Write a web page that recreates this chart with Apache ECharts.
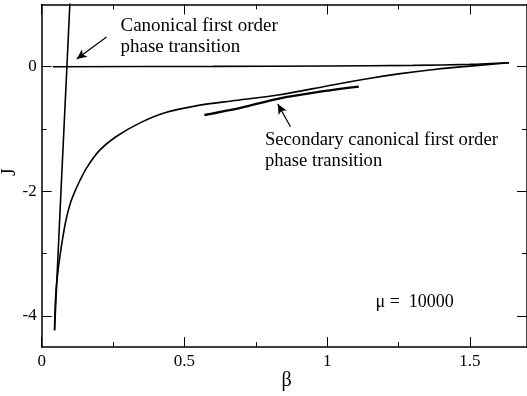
<!DOCTYPE html>
<html>
<head>
<meta charset="utf-8">
<script src="https://cdn.jsdelivr.net/npm/echarts@6/dist/echarts.min.js"></script>
<style>html,body{margin:0;padding:0;background:#fff}#c{width:527px;height:396px}</style>
</head>
<body>
<div id="c"></div>
<script>
// Data (beta, J)
const steepLine = [[0.045,-4.23],[0.0675,-2.0],[0.0883,0],[0.1016,1.3]];
const mainCurve = [[0.045,-4.23],[0.0486,-3.70],[0.054,-3.40],[0.066,-2.97],[0.084,-2.484],[0.1,-2.196],[0.116,-2.004],[0.133,-1.834],[0.158,-1.619],[0.2024,-1.343],[0.26,-1.124],[0.341,-0.909],[0.434,-0.735],[0.55,-0.62],[0.665,-0.55],[0.828,-0.455],[1.0,-0.31],[1.13,-0.20],[1.25,-0.115],[1.383,-0.04],[1.5,0.01],[1.637,0.064]];
const zeroLine = [[0.039,0.0],[0.6,0.005],[1.0,0.012],[1.3,0.022],[1.5,0.038],[1.637,0.064]];
const secondary = [[0.57,-0.775],[0.70,-0.655],[0.827,-0.515],[0.97,-0.405],[1.111,-0.321]];
const arrow1 = [[0.227,0.477],[0.1226,0.124]];
const arrow2 = [[0.8715,-0.963],[0.827,-0.60]];
const xMajor = [0,0.5,1,1.5];
const xMinor = [0.25,0.75,1.25];
const yMajor = [-4,-2,0];
const yMinor = [-3,-1];
const annoText1 = 'Canonical first order\nphase transition';
const annoText2 = 'Secondary canonical first order\nphase transition';
const muText = 'μ =  10000';

const FONT = '"Liberation Serif","Times New Roman",serif';
const chart = echarts.init(document.getElementById('c'), null, {renderer:'canvas'});

function xAx(pos, vals, len, line, labels){
  return {type:'value', min:0, max:1.7, position:pos, gridIndex:0,
    axisLine:{show:line, onZero:false, lineStyle:{color:'#000', width:1.5}},
    axisTick:{show:true, inside:true, length:len, customValues:vals, lineStyle:{color:'#000', width:1}},
    axisLabel:{show:labels, customValues:vals, margin:6, color:'#000', fontSize:17, fontFamily:FONT},
    splitLine:{show:false}};
}
function yAx(pos, vals, len, line, labels){
  return {type:'value', min:-4.5, max:1, position:pos, gridIndex:0,
    axisLine:{show:line, onZero:false, lineStyle:{color:'#000', width:1.5}},
    axisTick:{show:true, inside:true, length:len, customValues:vals, lineStyle:{color:'#000', width:1}},
    axisLabel:{show:labels, customValues:vals, margin:5, color:'#000', fontSize:17, fontFamily:FONT},
    splitLine:{show:false}};
}

const lineSeries = (data, w) => ({type:'line', data:data, xAxisIndex:0, yAxisIndex:0, showSymbol:false, symbol:'none',
  smooth:0.3, clip:true, lineStyle:{color:'#000', width:w}});

chart.setOption({
  animation:false,
  grid:{left:41.7, top:4.4, width:489.6, height:342.7, containLabel:false},
  xAxis:[xAx('bottom', xMajor, 10, true, true), xAx('bottom', xMinor, 5, false, false),
         xAx('top', xMajor, 10, true, false), xAx('top', xMinor, 5, false, false)],
  yAxis:[yAx('left', yMajor, 10, true, true), yAx('left', yMinor, 5, false, false),
         yAx('right', yMajor, 10, true, false), yAx('right', yMinor, 5, false, false)],
  series:[
    Object.assign(lineSeries(steepLine, 1.6), {smooth:false}),
    lineSeries(mainCurve, 1.6),
    Object.assign(lineSeries(zeroLine, 1.6), {
      markLine:{silent:true, symbol:['none','arrow'], symbolSize:[7,10], label:{show:false},
        lineStyle:{color:'#000', width:1.2, type:'solid'},
        data:[
          [{coord:arrow1[0]},{coord:arrow1[1]}],
          [{coord:arrow2[0]},{coord:arrow2[1]}]
        ]}
    }),
    lineSeries(secondary, 2.3)
  ],
  graphic:[
    {type:'text', left:120.5, top:15.5, style:{text:annoText1, font:'19px '+FONT, fill:'#000', lineHeight:21}},
    {type:'text', left:265, top:129.5, style:{text:annoText2, font:'18.6px '+FONT, fill:'#000', lineHeight:21}},
    {type:'text', left:375.5, top:291, style:{text:muText, font:'18px '+FONT, fill:'#000', lineHeight:22}},
    {type:'text', x:286.7, y:381, style:{text:'β', font:'20px '+FONT, fill:'#000', align:'center', verticalAlign:'middle'}},
    {type:'text', x:10, y:172, rotation:Math.PI/2, style:{text:'J', font:'20px '+FONT, fill:'#000', align:'center', verticalAlign:'middle'}}
  ]
});
</script>
</body>
</html>
